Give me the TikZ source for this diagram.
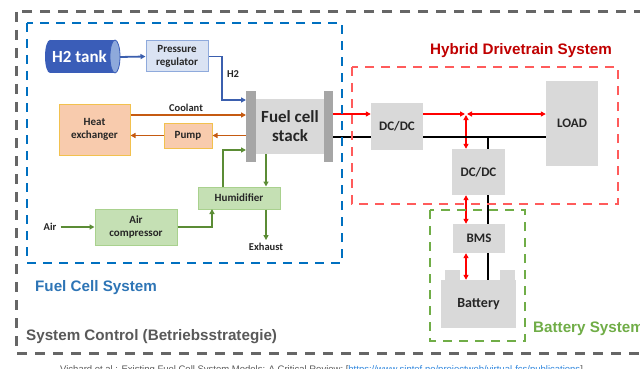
\documentclass[tikz,border=0pt]{standalone}
\usepackage{fontspec}
\setmainfont{Carlito}
\newfontfamily\arialf{Liberation Sans}
\usetikzlibrary{shapes.geometric,arrows.meta}
\definecolor{fcblue}{HTML}{0070C0}
\definecolor{fctitle}{HTML}{2E75B6}
\definecolor{darkbluearr}{HTML}{3B5FAE}
\definecolor{tankblue}{HTML}{3A5DB8}
\definecolor{tankend}{HTML}{8EA9DB}
\definecolor{regfill}{HTML}{DAE3F3}
\definecolor{regdraw}{HTML}{8FAADC}
\definecolor{orangearr}{HTML}{C55A11}
\definecolor{hxfill}{HTML}{F8CBAD}
\definecolor{hxdraw}{HTML}{F2C14E}
\definecolor{greenarr}{HTML}{5B8C35}
\definecolor{humfill}{HTML}{C5E0B4}
\definecolor{humdraw}{HTML}{A9D18E}
\definecolor{boxgray}{HTML}{D9D9D9}
\definecolor{plategray}{HTML}{A6A6A6}
\definecolor{reddash}{HTML}{FF5B5B}
\definecolor{redtitle}{HTML}{C00000}
\definecolor{greendash}{HTML}{70AD47}
\definecolor{ctrlgray}{HTML}{595959}
\definecolor{outergray}{HTML}{666666}
\definecolor{textdark}{HTML}{262626}
\definecolor{linkblue}{HTML}{2E86DE}
\begin{document}
\begin{tikzpicture}[x=1pt,y=-1pt,
  tip/.style={-{Triangle[length=5pt,width=5pt]}},
  bothtip/.style={{Triangle[length=5pt,width=5pt]}-{Triangle[length=5pt,width=5pt]}},
  bluearr/.style={tip,draw=darkbluearr,line width=1.8pt},
  orarr/.style={tip,draw=orangearr,line width=1.8pt},
  grarr/.style={tip,draw=greenarr,line width=1.8pt},
  redarr/.style={tip,draw=red,line width=1.8pt},
  redboth/.style={bothtip,draw=red,line width=1.8pt},
  blkline/.style={draw=black,line width=1.8pt},
  box/.style={draw,line width=1pt,inner sep=0pt,align=center,font=\bfseries\fontsize{11}{12.5}\selectfont,text=textdark},
  graybox/.style={fill=boxgray,inner sep=0pt,align=center,font=\bfseries\fontsize{13}{14}\selectfont,text=textdark},
  plate/.style={fill=plategray,inner sep=0pt,minimum width=10pt,minimum height=71pt},
  lbl/.style={font=\bfseries\fontsize{10.5}{12}\selectfont,text=textdark,inner sep=0pt},
  title/.style={font=\arialf\bfseries\fontsize{15.2}{17}\selectfont,anchor=west,inner sep=0pt},
  dashbox/.style={line width=2.6pt,dash pattern=on 9pt off 7pt}
]
\useasboundingbox (0,0) rectangle (640,369);
\clip (0,0) rectangle (640,369);
\fill[white] (0,0) rectangle (640,369);

% ---------- H2 tank (drawn cylinder) ----------
\fill[tankblue] (50,56.5) ellipse [x radius=5, y radius=16.5];
\fill[tankblue] (50,40) rectangle (115,73);
\filldraw[fill=tankend,draw=tankblue,line width=0.8pt] (115,56.5) ellipse [x radius=5, y radius=16.5];
\node[inner sep=0pt,minimum width=75pt,minimum height=33pt,
  text=white,font=\bfseries\fontsize{17}{18}\selectfont] (tank) at (82.5,56.5) {\hspace*{-6pt}H2 tank};

% ---------- Fuel cell system nodes ----------
\node[box,fill=regfill,draw=regdraw,minimum width=62pt,minimum height=31pt] (reg) at (177,56.5) {Pressure\\regulator};
\node[plate] (stackL) at (251,126.5) {};
\node[graybox,minimum width=68pt,minimum height=55pt,font=\bfseries\fontsize{17}{19}\selectfont] (stack) at (290,126.5) {Fuel cell\\stack};
\node[plate,minimum width=9pt] (stackR) at (328.5,126.5) {};
\node[box,fill=hxfill,draw=hxdraw,minimum width=71pt,minimum height=51pt] (hx) at (94.5,129.5) {Heat\\exchanger};
\node[box,fill=hxfill,draw=hxdraw,minimum width=48pt,minimum height=25pt] (pump) at (188,135.5) {Pump};
\node[box,fill=humfill,draw=humdraw,minimum width=82pt,minimum height=22pt] (hum) at (239,198) {Humidifier};
\node[box,fill=humfill,draw=humdraw,minimum width=82pt,minimum height=36pt] (comp) at (136,227) {Air\\compressor};
\node[lbl] (air) at (50,227) {Air};
\node[lbl] (exh) at (266,247) {Exhaust};
\node[lbl] (h2) at (233,74) {H2};
\node[lbl] (cool) at (186,108) {Coolant};

\coordinate (h2turn) at (222,100);
\coordinate (h2in) at (246,100);
\coordinate (coolin) at (246,115);
\coordinate (airup) at (223,150);
\coordinate (airin) at (246,150);
\coordinate (sout) at (266,154);
\coordinate (hcin) at (212,209);

\draw[bluearr] (120,57) -- (reg.west);
\draw[bluearr] (reg.east) -| (h2turn) -- (h2in);
\draw[orarr] (hx.east |- coolin) -- (coolin);
\draw[orarr] (stackL.west |- pump) -- (pump.east);
\draw[orarr] (pump.west) -- (hx.east |- pump);
\draw[grarr] (hum.north -| airup) |- (airin);
\draw[grarr] (sout) -- (sout |- hum.north);
\draw[grarr] (air.east) ++(4,0) -- (comp.west);
\draw[grarr] (comp.east) -| (hcin);
\draw[grarr] (hum.south -| sout) -- ([yshift=3pt]exh.north);

% ---------- Drivetrain ----------
\node[graybox,minimum width=52pt,minimum height=47pt] (dc1) at (397,126.5) {DC/DC};
\node[graybox,minimum width=52pt,minimum height=85pt] (load) at (572,123.5) {LOAD};
\node[graybox,minimum width=53pt,minimum height=46pt] (dc2) at (478.5,172) {DC/DC};
\node[graybox,minimum width=52pt,minimum height=29pt] (bms) at (479,238.5) {BMS};
\node[graybox,minimum width=75pt,minimum height=48pt,font=\bfseries\fontsize{14}{15}\selectfont] (batt) at (478.5,304) {Battery};
\node[fill=boxgray,inner sep=0pt,minimum width=15pt,minimum height=10pt] (termL) at (452.5,275) {};
\node[fill=boxgray,inner sep=0pt,minimum width=15pt,minimum height=10pt] (termR) at (507.5,275) {};

\coordinate (posout) at (333,114);
\coordinate (negout) at (333,137);
\coordinate (junc) at (466,114);
\coordinate (bj) at (488,137);

\draw[redarr] (posout) -- (dc1.west |- posout);
\draw[redarr] (dc1.east |- junc) -- ([xshift=-1pt]junc);
\draw[redboth] ([xshift=1pt]junc) -- (load.west |- junc);
\draw[redboth] ([yshift=-1pt]junc) -- (junc |- dc2.north);
\draw[blkline] (negout) -- (dc1.west |- negout);
\draw[blkline] (dc1.east |- negout) -- (load.west |- negout);
\draw[blkline] (bj) -- (bj |- dc2.north);
\draw[redboth] (dc2.south -| junc) -- (bms.north -| junc);
\draw[blkline] (dc2.south -| bj) -- (bms.north -| bj);
\draw[redboth] (bms.south -| junc) -- (batt.north -| junc);
\draw[blkline] (bms.south -| bj) -- (batt.north -| bj);

% ---------- Dashed system boxes ----------
\draw[dashbox,draw=outergray,line width=3pt,dash pattern=on 10pt off 8pt] (16,12) rectangle (700,353);
\draw[dashbox,draw=fcblue] (27,23) rectangle (342,263);
\draw[dashbox,draw=reddash] (352,67) rectangle (618,204);
\draw[dashbox,draw=greendash] (430,210) rectangle (525,341);

% ---------- Titles ----------
\node[title,text=fctitle] (tfc) at (35,288) {Fuel Cell System};
\node[title,text=ctrlgray] (tctrl) at (26,337) {System Control (Betriebsstrategie)};
\node[title,text=redtitle] (thy) at (430,51) {Hybrid Drivetrain System};
\node[title,text=greendash] (tbat) at (533,329) {Battery System};
\node[anchor=base west,inner sep=0pt,font=\arialf\fontsize{9.5}{11}\selectfont,text=ctrlgray] (cap) at (60,372)
  {Vichard et al.: Existing Fuel Cell System Models: A Critical Review; [\textcolor{linkblue}{https://www.sintef.no/projectweb/virtual-fcs/publications}]};
\end{tikzpicture}
\end{document}
